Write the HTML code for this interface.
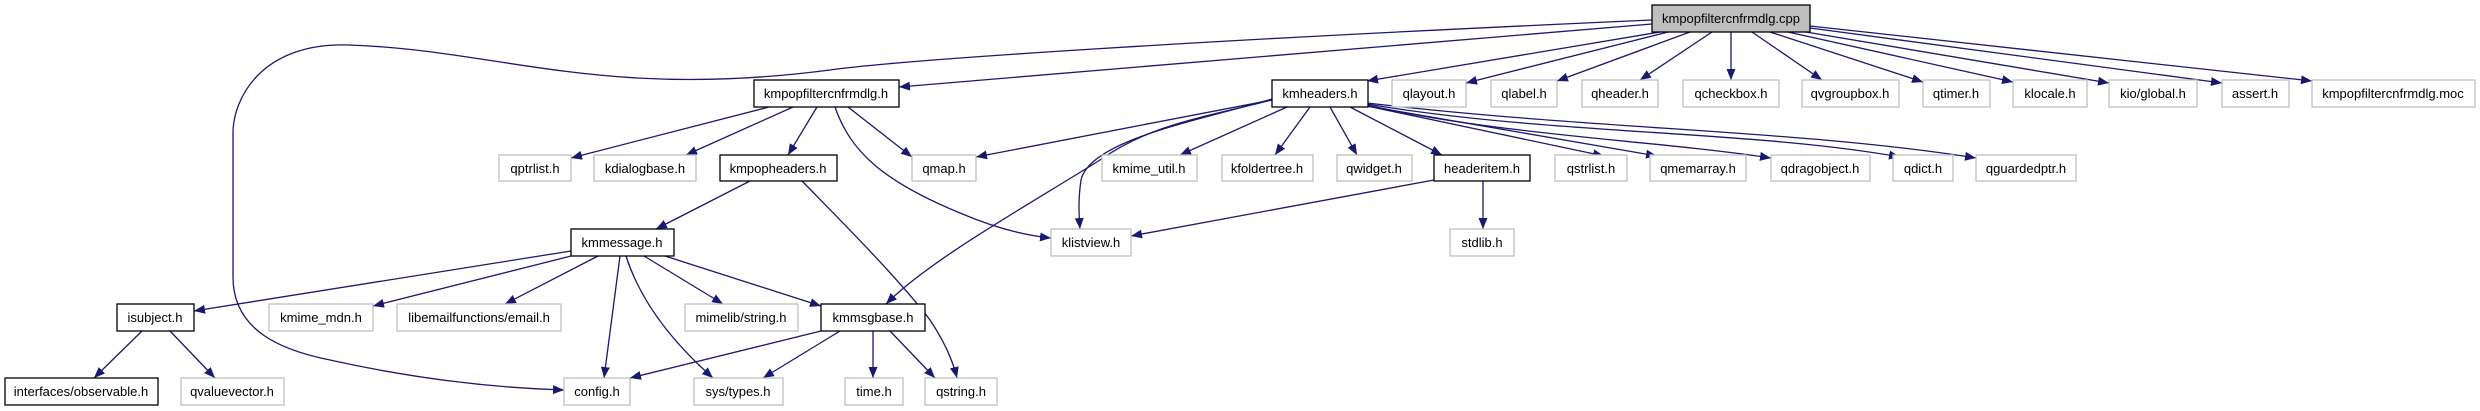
<!DOCTYPE html>
<html><head><meta charset="utf-8"><style>
html,body{margin:0;padding:0;background:#fff;}
svg{display:block;}
text{font-family:"Liberation Sans",Arial,sans-serif;font-size:13px;fill:#000;}
.e{fill:none;stroke:#191970;stroke-width:1.3;marker-end:url(#a);}
.g{fill:#fff;stroke:#bfbfbf;stroke-width:1.3;}
.b{fill:#fff;stroke:#000;stroke-width:1.3;}
</style></head><body>
<svg width="2480" height="411" viewBox="0 0 2480 411" xmlns="http://www.w3.org/2000/svg">
<defs><marker id="a" markerUnits="userSpaceOnUse" markerWidth="12" markerHeight="9" refX="11" refY="4.5" orient="auto"><path d="M0,0 L11,4.5 L0,9 z" fill="#191970"/></marker></defs>
<!-- edges -->
<path class="e" d="M1652,24 L899,87"/>
<path class="e" d="M1652,20 C1200,40 900,60 830,70 C600,100 500,50 349,45 C260,42 233,100 233,133 L233,277 C233,330 280,350 330,360 C420,380 500,388 564,390"/>
<path class="e" d="M1660,32 L1367,81"/>
<path class="e" d="M1668,32 L1466,83"/>
<path class="e" d="M1690,32 L1557,81"/>
<path class="e" d="M1712,32 L1640,80"/>
<path class="e" d="M1731,32 L1731,80"/>
<path class="e" d="M1752,32 L1822,80"/>
<path class="e" d="M1770,32 L1923,82"/>
<path class="e" d="M1788,32 L2013,82"/>
<path class="e" d="M1800,31 L2109,83"/>
<path class="e" d="M1810,28 L2222,83"/>
<path class="e" d="M1810,26 L2312,81"/>
<path class="e" d="M769,107 L571,158"/>
<path class="e" d="M793,107 L686,155"/>
<path class="e" d="M817,107 L788,155"/>
<path class="e" d="M848,107 L912,157"/>
<path class="e" d="M835,107 C850,150 880,180 960,213 C1000,230 1030,236 1051,238"/>
<path class="e" d="M750,181 L656,229"/>
<path class="e" d="M802,181 C840,220 900,280 930,320 C950,350 955,370 957,378"/>
<path class="e" d="M1272,100 L976,157"/>
<path class="e" d="M1287,107 L1180,155"/>
<path class="e" d="M1310,107 L1275,155"/>
<path class="e" d="M1330,107 L1357,155"/>
<path class="e" d="M1350,107 L1442,155"/>
<path class="e" d="M1367,106 L1604,156"/>
<path class="e" d="M1367,106 L1657,156"/>
<path class="e" d="M1367,105 C1500,135 1650,140 1771,158"/>
<path class="e" d="M1367,104 C1550,135 1750,130 1900,157"/>
<path class="e" d="M1367,103 C1600,130 1800,130 1976,158"/>
<path class="e" d="M1272,99 C1200,120 1090,140 1081,180 C1078,200 1079,215 1080,229"/>
<path class="e" d="M1272,100 C1200,118 1150,125 1100,160 C1020,210 930,260 886,304"/>
<path class="e" d="M1434,180 L1131,236"/>
<path class="e" d="M1483,181 L1483,229"/>
<path class="e" d="M571,251 L194,311"/>
<path class="e" d="M571,256 L373,306"/>
<path class="e" d="M598,256 L505,304"/>
<path class="e" d="M620,256 L604,378"/>
<path class="e" d="M626,256 C640,300 670,340 713,378"/>
<path class="e" d="M644,256 L723,304"/>
<path class="e" d="M665,256 L821,306"/>
<path class="e" d="M142,331 L94,378"/>
<path class="e" d="M170,331 L215,378"/>
<path class="e" d="M821,331 L630,378"/>
<path class="e" d="M840,331 L763,378"/>
<path class="e" d="M873,331 L873,378"/>
<path class="e" d="M890,331 L935,378"/>
<!-- nodes -->
<g>
<rect x="1652" y="5" width="158" height="27" fill="#bfbfbf" stroke="#000" stroke-width="1.3"/><text x="1731" y="23" text-anchor="middle">kmpopfiltercnfrmdlg.cpp</text>
<rect class="b" x="754" y="80" width="145" height="27"/><text x="826" y="98" text-anchor="middle">kmpopfiltercnfrmdlg.h</text>
<rect class="b" x="1272" y="80" width="96" height="27"/><text x="1320" y="98" text-anchor="middle">kmheaders.h</text>
<rect class="g" x="1392" y="80" width="74" height="27"/><text x="1429" y="98" text-anchor="middle">qlayout.h</text>
<rect class="g" x="1491" y="80" width="66" height="27"/><text x="1524" y="98" text-anchor="middle">qlabel.h</text>
<rect class="g" x="1582" y="80" width="76" height="27"/><text x="1620" y="98" text-anchor="middle">qheader.h</text>
<rect class="g" x="1683" y="80" width="96" height="27"/><text x="1731" y="98" text-anchor="middle">qcheckbox.h</text>
<rect class="g" x="1802" y="80" width="97" height="27"/><text x="1850" y="98" text-anchor="middle">qvgroupbox.h</text>
<rect class="g" x="1923" y="80" width="67" height="27"/><text x="1956" y="98" text-anchor="middle">qtimer.h</text>
<rect class="g" x="2013" y="80" width="74" height="27"/><text x="2050" y="98" text-anchor="middle">klocale.h</text>
<rect class="g" x="2109" y="80" width="88" height="27"/><text x="2153" y="98" text-anchor="middle">kio/global.h</text>
<rect class="g" x="2222" y="80" width="67" height="27"/><text x="2255" y="98" text-anchor="middle">assert.h</text>
<rect class="g" x="2312" y="80" width="163" height="27"/><text x="2393" y="98" text-anchor="middle">kmpopfiltercnfrmdlg.moc</text>
<rect class="g" x="499" y="155" width="72" height="26"/><text x="535" y="173" text-anchor="middle">qptrlist.h</text>
<rect class="g" x="594" y="155" width="102" height="26"/><text x="645" y="173" text-anchor="middle">kdialogbase.h</text>
<rect class="b" x="720" y="155" width="117" height="26"/><text x="778" y="173" text-anchor="middle">kmpopheaders.h</text>
<rect class="g" x="912" y="155" width="64" height="26"/><text x="944" y="173" text-anchor="middle">qmap.h</text>
<rect class="g" x="1102" y="155" width="95" height="26"/><text x="1149" y="173" text-anchor="middle">kmime_util.h</text>
<rect class="g" x="1222" y="155" width="91" height="26"/><text x="1267" y="173" text-anchor="middle">kfoldertree.h</text>
<rect class="g" x="1337" y="155" width="75" height="26"/><text x="1374" y="173" text-anchor="middle">qwidget.h</text>
<rect class="b" x="1434" y="155" width="96" height="26"/><text x="1482" y="173" text-anchor="middle">headeritem.h</text>
<rect class="g" x="1555" y="155" width="72" height="26"/><text x="1591" y="173" text-anchor="middle">qstrlist.h</text>
<rect class="g" x="1650" y="155" width="96" height="26"/><text x="1698" y="173" text-anchor="middle">qmemarray.h</text>
<rect class="g" x="1771" y="155" width="99" height="26"/><text x="1820" y="173" text-anchor="middle">qdragobject.h</text>
<rect class="g" x="1893" y="155" width="60" height="26"/><text x="1923" y="173" text-anchor="middle">qdict.h</text>
<rect class="g" x="1976" y="155" width="100" height="26"/><text x="2026" y="173" text-anchor="middle">qguardedptr.h</text>
<rect class="b" x="571" y="229" width="103" height="27"/><text x="622" y="247" text-anchor="middle">kmmessage.h</text>
<rect class="g" x="1051" y="229" width="80" height="27"/><text x="1091" y="247" text-anchor="middle">klistview.h</text>
<rect class="g" x="1450" y="229" width="64" height="27"/><text x="1482" y="247" text-anchor="middle">stdlib.h</text>
<rect class="b" x="117" y="304" width="77" height="27"/><text x="155" y="322" text-anchor="middle">isubject.h</text>
<rect class="g" x="269" y="304" width="104" height="27"/><text x="321" y="322" text-anchor="middle">kmime_mdn.h</text>
<rect class="g" x="397" y="304" width="164" height="27"/><text x="479" y="322" text-anchor="middle">libemailfunctions/email.h</text>
<rect class="g" x="685" y="304" width="113" height="27"/><text x="741" y="322" text-anchor="middle">mimelib/string.h</text>
<rect class="b" x="821" y="304" width="104" height="27"/><text x="873" y="322" text-anchor="middle">kmmsgbase.h</text>
<rect class="b" x="5" y="378" width="153" height="27"/><text x="81" y="396" text-anchor="middle">interfaces/observable.h</text>
<rect class="g" x="181" y="378" width="103" height="27"/><text x="232" y="396" text-anchor="middle">qvaluevector.h</text>
<rect class="g" x="564" y="378" width="66" height="27"/><text x="597" y="396" text-anchor="middle">config.h</text>
<rect class="g" x="694" y="378" width="89" height="27"/><text x="738" y="396" text-anchor="middle">sys/types.h</text>
<rect class="g" x="845" y="378" width="58" height="27"/><text x="874" y="396" text-anchor="middle">time.h</text>
<rect class="g" x="925" y="378" width="72" height="27"/><text x="961" y="396" text-anchor="middle">qstring.h</text>
</g>
</svg>
</body></html>
